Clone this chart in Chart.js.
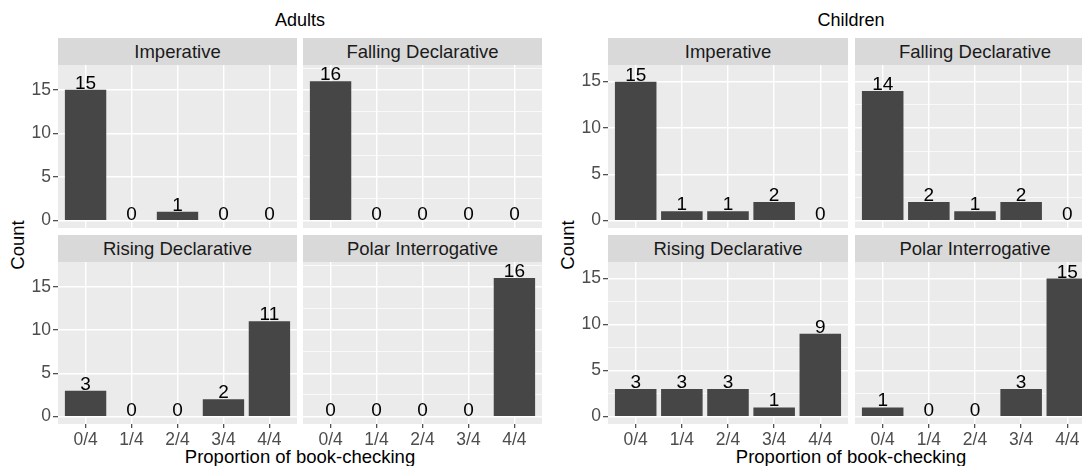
<!DOCTYPE html>
<html>
<head>
<meta charset="utf-8">
<script src="https://cdn.jsdelivr.net/npm/chart.js@4"></script>
<style>
  body { margin: 0; width: 1082px; height: 466px; overflow: hidden; background: #fff; position: relative;
         font-family: "Liberation Sans", Arial, sans-serif; }
  .lbl { position: absolute; white-space: nowrap; color: #000; text-align: center; }
  .strip { position: absolute; background: #D9D9D9; color: #1A1A1A; font-size: 18.5px; text-align: center; }
  canvas { position: absolute; }
</style>
</head>
<body>
<script>
// categories and facets
var categories = ["0/4", "1/4", "2/4", "3/4", "4/4"];
var facetNames = ["Imperative", "Falling Declarative", "Rising Declarative", "Polar Interrogative"];

// counts
var adultsImperative = [15, 0, 1, 0, 0];
var adultsFalling = [16, 0, 0, 0, 0];
var adultsRising = [3, 0, 0, 2, 11];
var adultsPolar = [0, 0, 0, 0, 16];

var childrenImperative = [15, 1, 1, 2, 0];
var childrenFalling = [14, 2, 1, 2, 0];
var childrenRising = [3, 3, 3, 1, 9];
var childrenPolar = [1, 0, 0, 3, 15];

// tick labels
var yTicks = [0, 5, 10, 15];
var yMinorTicks = [2.5, 7.5, 12.5, 17.5];

var FONT = '"Liberation Sans", Arial, sans-serif';
Chart.defaults.font.family = FONT;

// layout
var groups = [
  { title: "Adults", series: [adultsImperative, adultsFalling, adultsRising, adultsPolar],
    yMin: -0.85, yMax: 17.85, cols: [58, 303], panelW: 239, center: 300, countX: 18 },
  { title: "Children", series: [childrenImperative, childrenFalling, childrenRising, childrenPolar],
    yMin: -0.8, yMax: 16.8, cols: [608, 855], panelW: 240, center: 851, countX: 568 }
];
var rows = [
  { stripTop: 38, panelTop: 65, panelH: 163 },
  { stripTop: 235, panelTop: 262, panelH: 162 }
];
var Y_AXIS_W = 45, X_AXIS_H = 30;

function addLabel(text, left, top, size, extra) {
  var d = document.createElement("div");
  d.className = "lbl";
  d.textContent = text;
  d.style.fontSize = size + "px";
  d.style.left = left + "px";
  d.style.top = top + "px";
  if (extra) Object.assign(d.style, extra);
  document.body.appendChild(d);
  return d;
}

// grey panel background
var panelBg = {
  id: "panelBg",
  beforeDraw: function(chart) {
    var a = chart.chartArea, ctx = chart.ctx;
    ctx.save();
    ctx.fillStyle = "#EBEBEB";
    ctx.fillRect(a.left, a.top, a.right - a.left, a.bottom - a.top);
    ctx.restore();
  }
};

// count above each bar
var barLabels = {
  id: "barLabels",
  afterDatasetsDraw: function(chart) {
    var ctx = chart.ctx;
    var meta = chart.getDatasetMeta(0);
    var ds = chart.data.datasets[0].data;
    ctx.save();
    ctx.fillStyle = "#000";
    ctx.font = "19px " + FONT;
    ctx.textAlign = "center";
    ctx.textBaseline = "alphabetic";
    meta.data.forEach(function(bar, i) {
      ctx.fillText(String(ds[i].y), bar.x, bar.y - 1);
    });
    ctx.restore();
  }
};

function noPad(s) {
  s.paddingTop = 0; s.paddingBottom = 0; s.paddingLeft = 0; s.paddingRight = 0;
}

function makeFacet(g, idx) {
  var col = idx % 2, row = Math.floor(idx / 2);
  var r = rows[row];
  var left = g.cols[col];
  var yw = col === 0 ? Y_AXIS_W : 0;
  var xh = row === 1 ? X_AXIS_H : 0;

  var strip = document.createElement("div");
  strip.className = "strip";
  strip.textContent = facetNames[idx];
  strip.style.left = left + "px";
  strip.style.top = r.stripTop + "px";
  strip.style.width = g.panelW + "px";
  strip.style.height = (r.panelTop - r.stripTop) + "px";
  strip.style.lineHeight = (r.panelTop - r.stripTop) + "px";
  document.body.appendChild(strip);

  var canvas = document.createElement("canvas");
  canvas.width = g.panelW + yw;
  canvas.height = r.panelH + xh;
  canvas.style.left = (left - yw) + "px";
  canvas.style.top = r.panelTop + "px";
  document.body.appendChild(canvas);

  var values = g.series[idx];
  var allY = yTicks.concat(yMinorTicks).filter(function(v) { return v >= g.yMin && v <= g.yMax; })
    .sort(function(a, b) { return a - b; });
  function isMinor(v) { return yTicks.indexOf(v) < 0; }

  new Chart(canvas.getContext("2d"), {
    type: "bar",
    data: {
      datasets: [{
        data: values.map(function(v, i) { return { x: i, y: v }; }),
        backgroundColor: "#464646",
        borderWidth: 0,
        barPercentage: 0.9,
        categoryPercentage: 1
      }]
    },
    options: {
      responsive: false,
      animation: false,
      layout: { padding: 0 },
      plugins: { legend: { display: false }, tooltip: { enabled: false } },
      scales: {
        x: {
          type: "linear",
          min: -0.6, max: 4.6,
          offset: false,
          afterBuildTicks: function(s) { s.ticks = categories.map(function(c, i) { return { value: i }; }); },
          afterFit: function(s) { s.height = xh; noPad(s); },
          border: { display: false },
          grid: { offset: false, color: "#FFFFFF", lineWidth: 1.4, drawTicks: row === 1,
                  tickLength: 4, tickColor: "#333333", tickWidth: 1.1 },
          ticks: { display: row === 1, autoSkip: false, maxRotation: 0, padding: 2,
                   color: "#4D4D4D", font: { size: 17.5 },
                   callback: function(v) { return categories[v]; } }
        },
        y: {
          min: g.yMin, max: g.yMax,
          afterBuildTicks: function(s) { s.ticks = allY.map(function(v) { return { value: v }; }); },
          afterFit: function(s) { s.width = yw; noPad(s); },
          border: { display: false },
          grid: {
            color: "#FFFFFF",
            lineWidth: function(c) { return c.tick && isMinor(c.tick.value) ? 0.7 : 1.4; },
            drawTicks: col === 0, tickLength: 5, tickWidth: 1.1,
            tickColor: function(c) { return c.tick && isMinor(c.tick.value) ? "rgba(0,0,0,0)" : "#333333"; }
          },
          ticks: { display: col === 0, padding: 2, color: "#4D4D4D", font: { size: 17.5 },
                   callback: function(v) { return isMinor(v) ? "" : v; } }
        }
      }
    },
    plugins: [panelBg, barLabels]
  });
}

groups.forEach(function(g) {
  addLabel(g.title, g.center - 100, 10, 18, { width: "200px" });
  addLabel("Proportion of book-checking", g.center - 200, 446, 18.5, { width: "400px" });
  addLabel("Count", g.countX - 40, 245 - 11, 18.5, { width: "80px", transform: "rotate(-90deg)" });
  for (var i = 0; i < 4; i++) makeFacet(g, i);
});
</script>
</body>
</html>
